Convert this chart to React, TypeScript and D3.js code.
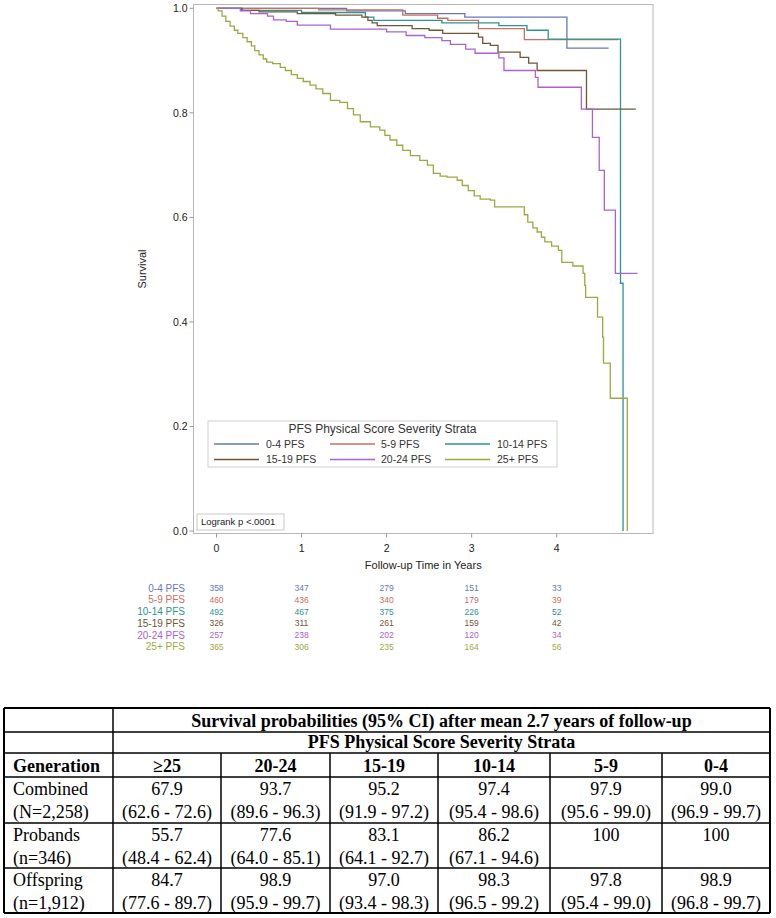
import React from "react";
import * as d3 from "d3";

// ---------- Data ----------
const strata = ["0-4 PFS", "5-9 PFS", "10-14 PFS", "15-19 PFS", "20-24 PFS", "25+ PFS"];
const strataColors = ["#6578bd", "#cc6d60", "#2b958f", "#735536", "#a863cf", "#9fa83e"];

const t04 = [0, 1.53, 2.22, 2.92, 4.12, 4.61];
const s04 = [1.0, 0.995, 0.99, 0.983, 0.924, 0.924];

const t59 = [0, 1.2, 2.19, 2.6, 2.72, 3.08, 3.62, 4.72];
const s59 = [1.0, 0.997, 0.987, 0.981, 0.977, 0.961, 0.94, 0.94];

const t1014 = [0, 0.3, 1.0, 1.75, 1.85, 2.65, 3.32, 3.65, 3.9, 4.75, 4.78];
const s1014 = [1.0, 0.996, 0.992, 0.983, 0.977, 0.972, 0.967, 0.958, 0.941, 0.474, 0.0];

const t1519 = [0, 0.3, 0.5, 0.95, 1.4, 1.71, 1.78, 1.83, 1.89, 2.3, 2.5, 2.66, 3.08, 3.13, 3.22, 3.31, 3.57, 3.67, 3.77, 4.35, 4.93];
const s1519 = [1.0, 0.996, 0.993, 0.99, 0.987, 0.983, 0.977, 0.972, 0.967, 0.961, 0.958, 0.952, 0.945, 0.933, 0.929, 0.916, 0.906, 0.895, 0.881, 0.807, 0.807];

const t2024 = [0, 0.28, 0.4, 0.6, 0.67, 0.82, 0.95, 1.34, 2.0, 2.23, 2.45, 2.65, 2.75, 2.93, 3.04, 3.32, 3.38, 3.75, 3.78, 4.29, 4.42, 4.5, 4.56, 4.69, 4.95];
const s2024 = [1.0, 0.995, 0.99, 0.985, 0.978, 0.975, 0.968, 0.96, 0.955, 0.948, 0.944, 0.938, 0.931, 0.922, 0.914, 0.905, 0.881, 0.868, 0.849, 0.807, 0.753, 0.69, 0.614, 0.493, 0.493];

const t25 = [0, 0.02, 0.065, 0.11, 0.16, 0.21, 0.25, 0.31, 0.36, 0.41, 0.45, 0.5, 0.55, 0.59, 0.66, 0.75, 0.81, 0.88, 0.95, 1.02, 1.1, 1.17, 1.25, 1.34, 1.45, 1.54, 1.61, 1.69, 1.81, 1.92, 1.98, 2.04, 2.12, 2.19, 2.28, 2.39, 2.48, 2.55, 2.63, 2.71, 2.83, 2.89, 2.96, 3.03, 3.1, 3.22, 3.27, 3.62, 3.66, 3.72, 3.77, 3.82, 3.86, 3.94, 4.02, 4.06, 4.19, 4.31, 4.33, 4.34, 4.48, 4.54, 4.55, 4.63, 4.83];
const s25 = [1.0, 0.995, 0.985, 0.975, 0.966, 0.958, 0.952, 0.944, 0.936, 0.928, 0.919, 0.911, 0.903, 0.897, 0.894, 0.887, 0.881, 0.873, 0.866, 0.86, 0.853, 0.846, 0.837, 0.824, 0.82, 0.808, 0.796, 0.783, 0.773, 0.767, 0.757, 0.748, 0.738, 0.728, 0.718, 0.709, 0.7, 0.684, 0.679, 0.677, 0.671, 0.661, 0.651, 0.641, 0.635, 0.633, 0.62, 0.605, 0.591, 0.58, 0.572, 0.562, 0.553, 0.545, 0.537, 0.514, 0.507, 0.493, 0.47, 0.447, 0.409, 0.371, 0.321, 0.254, 0.0];

const seriesTimes = [t04, t59, t1014, t1519, t2024, t25];
const seriesSurv = [s04, s59, s1014, s1519, s2024, s25];

const riskTimes = [0, 1, 2, 3, 4];
const risk04 = [358, 347, 279, 151, 33];
const risk59 = [460, 436, 340, 179, 39];
const risk1014 = [492, 467, 375, 226, 52];
const risk1519 = [326, 311, 261, 159, 42];
const risk2024 = [257, 238, 202, 120, 34];
const risk25 = [365, 306, 235, 164, 56];
const riskRows = [risk04, risk59, risk1014, risk1519, risk2024, risk25];

const xTicks = [0, 1, 2, 3, 4];
const yTicks = [0, 0.2, 0.4, 0.6, 0.8, 1.0];

// Table data
const tableTitle = "Survival probabilities (95% CI) after mean 2.7 years of follow-up";
const tableSubtitle = "PFS Physical Score Severity Strata";
const tableCols = ["\u226525", "20-24", "15-19", "10-14", "5-9", "0-4"];
const generations = ["Combined", "Probands", "Offspring"];
const genN = ["(N=2,258)", "(n=346)", "(n=1,912)"];
const combinedEst = ["67.9", "93.7", "95.2", "97.4", "97.9", "99.0"];
const combinedCI = ["(62.6 - 72.6)", "(89.6 - 96.3)", "(91.9 - 97.2)", "(95.4 - 98.6)", "(95.6 - 99.0)", "(96.9 - 99.7)"];
const probandsEst = ["55.7", "77.6", "83.1", "86.2", "100", "100"];
const probandsCI = ["(48.4 - 62.4)", "(64.0 - 85.1)", "(64.1 - 92.7)", "(67.1 - 94.6)", "", ""];
const offspringEst = ["84.7", "98.9", "97.0", "98.3", "97.8", "98.9"];
const offspringCI = ["(77.6 - 89.7)", "(95.9 - 99.7)", "(93.4 - 98.3)", "(96.5 - 99.2)", "(95.4 - 99.0)", "(96.8 - 99.7)"];
const estRows = [combinedEst, probandsEst, offspringEst];
const ciRows = [combinedCI, probandsCI, offspringCI];

// ---------- Layout ----------
const W = 776;
const H = 918;
const SANS = "'Liberation Sans', Arial, sans-serif";
const SERIF = "'Liberation Serif', 'Times New Roman', serif";

export default function App() {
  const x = d3.scaleLinear().domain([0, 4]).range([216.5, 556.7]);
  const y = d3.scaleLinear().domain([0, 1]).range([531, 8.3]);
  const frame = { x0: 193.5, y0: 4.5, x1: 653, y1: 533.5 };

  const line = d3
    .line<[number, number]>()
    .x((d) => x(d[0]))
    .y((d) => y(d[1]))
    .curve(d3.curveStepAfter);

  const riskY = d3.scaleLinear().domain([0, 5]).range([588.3, 646.7]);

  // legend layout
  const legCols = [
    { lx: 214, tx: 266 },
    { lx: 330, tx: 381 },
    { lx: 445, tx: 497 },
  ];
  const legRows = [444, 459.5];

  // table layout
  const colX = [4, 113, 221, 330, 438, 550, 662, 770];
  const rowY = [708, 732, 753, 777, 823, 868, 913];

  return (
    <svg
      width={W}
      height={H}
      style={{ position: "absolute", left: 0, top: 0, background: "#fff" }}
      xmlns="http://www.w3.org/2000/svg"
    >
      <rect x={0} y={0} width={W} height={H} fill="#fff" />

      {/* plot frame */}
      <rect
        x={frame.x0}
        y={frame.y0}
        width={frame.x1 - frame.x0}
        height={frame.y1 - frame.y0}
        fill="none"
        stroke="#b8b8b8"
        strokeWidth={1}
      />

      {/* y axis ticks */}
      {yTicks.map((v) => (
        <g key={"yt" + v}>
          <line x1={frame.x0 - 4} x2={frame.x0} y1={y(v)} y2={y(v)} stroke="#999" />
          <text
            x={frame.x0 - 6}
            y={y(v)}
            dy="0.35em"
            textAnchor="end"
            fontFamily={SANS}
            fontSize={10.5}
            fill="#222"
          >
            {d3.format(".1f")(v)}
          </text>
        </g>
      ))}
      {/* x axis ticks */}
      {xTicks.map((v) => (
        <g key={"xt" + v}>
          <line x1={x(v)} x2={x(v)} y1={frame.y1} y2={frame.y1 + 4} stroke="#999" />
          <text
            x={x(v)}
            y={552}
            textAnchor="middle"
            fontFamily={SANS}
            fontSize={10.5}
            fill="#222"
          >
            {v}
          </text>
        </g>
      ))}

      <text
        transform={`translate(146,${(frame.y0 + frame.y1) / 2}) rotate(-90)`}
        textAnchor="middle"
        fontFamily={SANS}
        fontSize={11}
        fill="#222"
      >
        Survival
      </text>
      <text
        x={(frame.x0 + frame.x1) / 2}
        y={569}
        textAnchor="middle"
        fontFamily={SANS}
        fontSize={11}
        fill="#222"
      >
        Follow-up Time in Years
      </text>

      {/* KM curves */}
      {strata.map((name, i) => {
        const pts: [number, number][] = seriesTimes[i].map((t, j) => [t, seriesSurv[i][j]]);
        return (
          <path
            key={name}
            d={line(pts) || ""}
            fill="none"
            stroke={strataColors[i]}
            strokeWidth={1.3}
          />
        );
      })}

      {/* legend */}
      <rect x={208} y={421} width={349} height={46} fill="#fff" stroke="#d0d0d0" />
      <text x={382.5} y={432.5} textAnchor="middle" fontFamily={SANS} fontSize={12} fill="#333">
        PFS Physical Score Severity Strata
      </text>
      {strata.map((name, i) => {
        const c = legCols[i % 3];
        const ry = legRows[Math.floor(i / 3)];
        return (
          <g key={"leg" + name}>
            <line x1={c.lx} x2={c.lx + 45} y1={ry} y2={ry} stroke={strataColors[i]} strokeWidth={1.3} />
            <text x={c.tx} y={ry} dy="0.35em" fontFamily={SANS} fontSize={10.5} fill="#333">
              {name}
            </text>
          </g>
        );
      })}

      {/* logrank box */}
      <rect x={197} y={514} width={87} height={16} fill="#fff" stroke="#c8c8c8" />
      <text x={201} y={522} dy="0.35em" fontFamily={SANS} fontSize={9.5} fill="#222">
        Logrank p &lt;.0001
      </text>

      {/* numbers at risk */}
      {strata.map((name, i) => (
        <g key={"risk" + name}>
          <text
            x={185}
            y={riskY(i)}
            dy="0.35em"
            textAnchor="end"
            fontFamily={SANS}
            fontSize={10}
            fill={strataColors[i]}
          >
            {name}
          </text>
          {riskRows[i].map((n, j) => (
            <text
              key={j}
              x={x(riskTimes[j])}
              y={riskY(i)}
              dy="0.35em"
              textAnchor="middle"
              fontFamily={SANS}
              fontSize={8.5}
              fill={strataColors[i]}
            >
              {n}
            </text>
          ))}
        </g>
      ))}

      {/* ---------- Table ---------- */}
      <g fontFamily={SERIF} fontSize={18} fill="#000">
        {/* horizontal lines */}
        {rowY.map((ry, i) => (
          <line
            key={"hr" + i}
            x1={colX[0]}
            x2={colX[colX.length - 1]}
            y1={ry}
            y2={ry}
            stroke="#000"
            strokeWidth={i === 0 || i === rowY.length - 1 ? 2 : 1.5}
          />
        ))}
        {/* vertical lines */}
        {colX.map((cx, i) => {
          const full = i === 0 || i === 1 || i === colX.length - 1;
          return (
            <line
              key={"vr" + i}
              x1={cx}
              x2={cx}
              y1={full ? rowY[0] : rowY[2]}
              y2={rowY[rowY.length - 1]}
              stroke="#000"
              strokeWidth={i === 0 || i === colX.length - 1 ? 2 : 1.5}
            />
          );
        })}
        <text x={(colX[1] + colX[7]) / 2} y={727} textAnchor="middle" fontWeight="bold">
          {tableTitle}
        </text>
        <text x={(colX[1] + colX[7]) / 2} y={748} textAnchor="middle" fontWeight="bold">
          {tableSubtitle}
        </text>
        <text x={13} y={772} fontWeight="bold">
          Generation
        </text>
        {tableCols.map((c, j) => (
          <text key={"hc" + j} x={(colX[j + 1] + colX[j + 2]) / 2} y={772} textAnchor="middle" fontWeight="bold">
            {c}
          </text>
        ))}
        {generations.map((g, r) => {
          const top = rowY[3 + r];
          return (
            <g key={"gr" + g}>
              <text x={13} y={top + 18}>
                {g}
              </text>
              <text x={13} y={top + 41}>
                {genN[r]}
              </text>
              {estRows[r].map((v, j) => (
                <text key={"e" + j} x={(colX[j + 1] + colX[j + 2]) / 2} y={top + 18} textAnchor="middle">
                  {v}
                </text>
              ))}
              {ciRows[r].map((v, j) => (
                <text key={"c" + j} x={(colX[j + 1] + colX[j + 2]) / 2} y={top + 41} textAnchor="middle">
                  {v}
                </text>
              ))}
            </g>
          );
        })}
      </g>
    </svg>
  );
}
